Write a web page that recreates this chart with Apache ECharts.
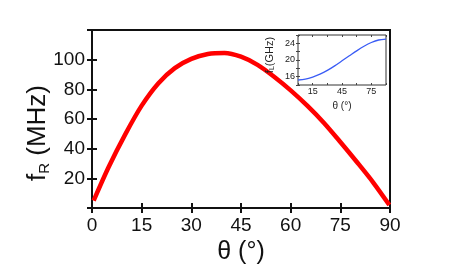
<!DOCTYPE html>
<html>
<head>
<meta charset="utf-8">
<script src="https://cdn.jsdelivr.net/npm/echarts@6/dist/echarts.min.js"></script>
<style>html,body{margin:0;padding:0;background:#fff}#c{width:463px;height:274px}</style>
</head>
<body>
<div id="c"></div>
<script>
// Main curve: resonance frequency f_R (MHz) vs angle θ (°)
var thetaMain = [0.5, 5, 10, 15, 20, 25, 30, 35, 40, 45, 50, 55, 60, 65, 70, 75, 80, 85, 89.8];
var fR = [5, 27.5, 49.5, 69, 84, 94.3, 100.5, 103.8, 104.5, 102, 96.5, 88.5, 79.3, 69, 57.5, 44.5, 31, 17, 2];
// Inset curve: f_L (GHz) vs θ (°)
var thetaInset = [0, 7.5, 15, 22.5, 30, 37.5, 45, 52.5, 60, 67.5, 75, 82.5, 90];
var fL = [15.2, 15.4, 15.9, 16.6, 17.5, 18.6, 19.8, 21.0, 22.2, 23.3, 24.2, 24.8, 25.0];
// Tick labels
var mainXTicks = [0, 15, 30, 45, 60, 75, 90];
var mainYLabels = [20, 40, 60, 80, 100];
var insetXLabels = [15, 45, 75];
var insetYLabels = [16, 20, 24];

var FONT = '"Liberation Sans", Arial, sans-serif';
function pairs(xs, ys){ return xs.map(function(x,i){ return [x, ys[i]]; }); }

var chart = echarts.init(document.getElementById('c'), null, {renderer:'canvas'});
var mainLabelStyle = {color:'#111', fontSize:19, fontFamily:FONT};
var option = {
  animation:false,
  backgroundColor:'#fff',
  grid:[
    {left:92, top:30, width:298, height:178, show:true, borderColor:'#111', borderWidth:2, backgroundColor:'transparent'},
    {left:298, top:35, width:88, height:50, show:true, borderColor:'#333', borderWidth:1, backgroundColor:'#fff'}
  ],
  xAxis:[
    {gridIndex:0, type:'value', min:0, max:90, interval:15,
     axisLine:{show:false}, splitLine:{show:false},
     axisTick:{inside:true, length:5, lineStyle:{color:'#111', width:2}},
     axisLabel:Object.assign({margin:8, formatter:function(v){return mainXTicks.indexOf(v)>=0?String(v):'';}}, mainLabelStyle),
     name:'θ (°)', nameLocation:'middle', nameGap:30,
     nameTextStyle:{color:'#111', fontSize:25, fontFamily:FONT}},
    {gridIndex:0, type:'value', position:'top', min:0, max:90, interval:15,
     axisLine:{show:false}, splitLine:{show:false}, axisLabel:{show:false},
     axisTick:{inside:true, length:5, lineStyle:{color:'#111', width:2}}},
    {gridIndex:1, type:'value', min:0, max:90, interval:15,
     axisLine:{show:false}, splitLine:{show:false},
     axisTick:{inside:true, length:2, lineStyle:{color:'#444', width:1}},
     axisLabel:{color:'#222', fontSize:9, fontFamily:FONT, margin:2,
       formatter:function(v){return insetXLabels.indexOf(v)>=0?String(v):'';}},
     name:'θ (°)', nameLocation:'middle', nameGap:16,
     nameTextStyle:{color:'#222', fontSize:10, fontFamily:FONT}},
    {gridIndex:1, type:'value', position:'top', min:0, max:90, interval:15,
     axisLine:{show:false}, splitLine:{show:false}, axisLabel:{show:false},
     axisTick:{inside:true, length:2, lineStyle:{color:'#444', width:1}}}
  ],
  yAxis:[
    {gridIndex:0, type:'value', min:0, max:120, interval:20,
     axisLine:{show:false}, splitLine:{show:false},
     axisTick:{inside:true, length:5, lineStyle:{color:'#111', width:2}},
     axisLabel:Object.assign({margin:7, formatter:function(v){return mainYLabels.indexOf(v)>=0?String(v):'';}}, mainLabelStyle)},
    {gridIndex:0, type:'value', position:'right', min:0, max:120, interval:20,
     axisLine:{show:false}, splitLine:{show:false}, axisLabel:{show:false},
     axisTick:{inside:true, length:5, lineStyle:{color:'#111', width:2}}},
    {gridIndex:1, type:'value', min:14, max:26, interval:2,
     axisLine:{show:false}, splitLine:{show:false},
     axisTick:{inside:true, length:2, lineStyle:{color:'#444', width:1}},
     axisLabel:{color:'#222', fontSize:9, fontFamily:FONT, margin:3,
       formatter:function(v){return insetYLabels.indexOf(v)>=0?String(v):'';}}},
    {gridIndex:1, type:'value', position:'right', min:14, max:26, interval:2,
     axisLine:{show:false}, splitLine:{show:false}, axisLabel:{show:false},
     axisTick:{inside:true, length:2, lineStyle:{color:'#444', width:1}}}
  ],
  graphic:[
    {type:'text', x:38, y:133, rotation:Math.PI/2, z:10,
     style:{text:'{a|f}{s|R}{a| (MHz)}', align:'center', verticalAlign:'middle',
       rich:{a:{fontSize:26, fontFamily:FONT, fill:'#111'}, s:{fontSize:15, fontFamily:FONT, fill:'#111', padding:[14,0,0,0]}}}},
    {type:'text', x:270, y:55, rotation:Math.PI/2, z:10,
     style:{text:'{a|f}{s|L}{a|(GHz)}', align:'center', verticalAlign:'middle',
       rich:{a:{fontSize:11, fontFamily:FONT, fill:'#222'}, s:{fontSize:7, fontFamily:FONT, fill:'#222', padding:[5,0,0,0]}}}}
  ],
  series:[
    {type:'line', xAxisIndex:0, yAxisIndex:0, data:pairs(thetaMain, fR), smooth:0.3, showSymbol:false,
     lineStyle:{color:'#ff0000', width:4.5}, z:2},
    {type:'line', xAxisIndex:2, yAxisIndex:2, data:pairs(thetaInset, fL), smooth:0.3, showSymbol:false,
     lineStyle:{color:'#3a5cf5', width:1.3}, z:5}
  ]
};
chart.setOption(option);
</script>
</body>
</html>
